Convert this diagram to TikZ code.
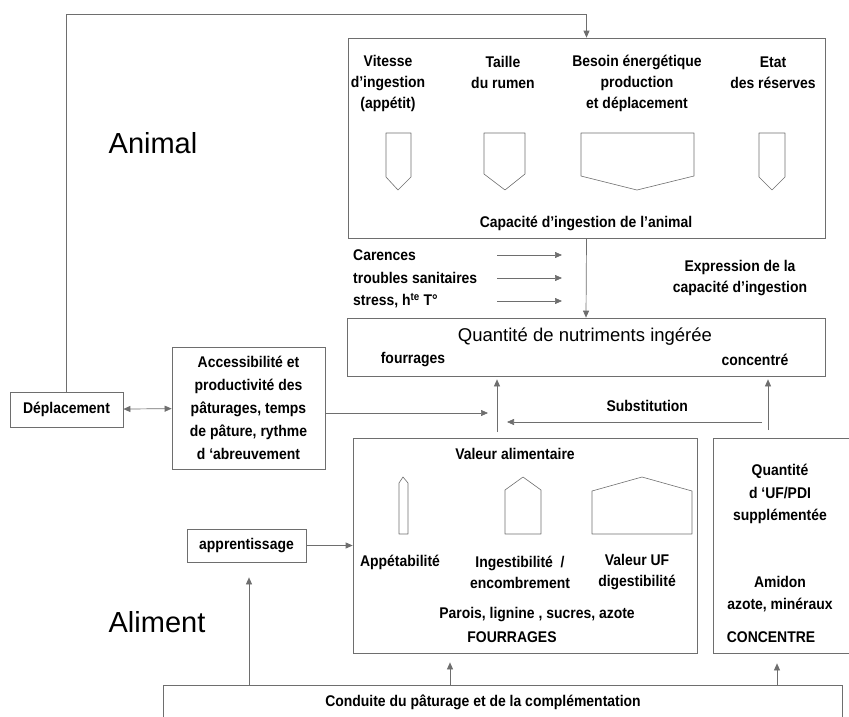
\documentclass[tikz,border=0pt]{standalone}
\usepackage{fontspec}
\setmainfont{Liberation Sans}
\newfontfamily\condfont[FakeStretch=0.9]{Liberation Sans}
\usetikzlibrary{arrows.meta}
\definecolor{lineGray}{HTML}{6E6E6E}
\tikzset{
  box/.style={draw=lineGray, line width=0.7pt, inner sep=0pt},
  txt/.style={font=\condfont\bfseries\fontsize{15.5}{21}\selectfont, align=center, inner sep=0pt, text=black},
  txtw/.style={txt, anchor=west},
  head/.style={font=\fontsize{18.5}{22}\selectfont, inner sep=0pt},
  big/.style={font=\fontsize{29}{32}\selectfont, inner sep=0pt},
  shp/.style={draw=lineGray, line width=0.6pt, line join=round},
  arr/.style={-{Triangle[length=7pt,width=6pt]}, lineGray, line width=0.7pt},
  arr2/.style={{Triangle[length=7pt,width=6pt]}-{Triangle[length=7pt,width=6pt]}, lineGray, line width=0.7pt},
}

\begin{document}
\begin{tikzpicture}[x=1pt, y=-1pt]
    \useasboundingbox (0,0) rectangle (849,716);
    \node[big] (animal) at (153,143) {Animal};
    \node[big] (aliment) at (157,622) {Aliment};
    % animal
    \node[box, minimum width=477, minimum height=200] (topbox) at (586.5,138) {};
    \node[txt] (vit) at (388,83) {Vitesse\\d’ingestion\\(appétit)};
    \node[txt] (tail) at (503,72.5) {Taille\\du rumen};
    \node[txt] (bes) at (637,83) {Besoin énergétique\\production\\et déplacement};
    \node[txt] (etat) at (773,72.5) {Etat\\des réserves};
    \draw[shp] (386,133) -- (411,133) -- (411,177) -- (398,190) -- (386,177) -- cycle;
    \draw[shp] (484,133) -- (525,133) -- (525,174) -- (505,190) -- (484,174) -- cycle;
    \draw[shp] (581,133) -- (694,133) -- (694,176) -- (637,190) -- (581,176) -- cycle;
    \draw[shp] (759,133) -- (785,133) -- (785,177) -- (772,190) -- (759,177) -- cycle;
    \node[txt] (capa) at (586,223) {Capacité d’ingestion de l’animal};
    \node[txtw] (car) at (353,255) {Carences};
    \node[txtw] (trou) at (353,278) {troubles sanitaires};
    \node[txtw] (stre) at (353,301) {stress, h\textsuperscript{te} T°};
    \foreach \y/\n in {255/a,278/b,301/c}{
      \coordinate (in\n) at (497,\y);
      \coordinate (out\n) at (562,\y);
      \draw[arr] (in\n) -- (out\n);
    }
    \node[txt] (expr) at (740,278) {Expression de la\\capacité d’ingestion};
    \node[box, minimum width=478, minimum height=58] (quant) at (586,347) {};
    \node[head] (quantt) at (585,337) {Quantité de nutriments ingérée};
    \node[txt] (fou) at (413,360) {fourrages};
    \node[txt] (conc) at (755,360) {concentré};
    \draw[arr] (topbox.south) -- (quant.north);
    % pasture side
    \node[box, minimum width=113, minimum height=35] (depl) at (66.5,409.5) {};
    \node[txt] at (depl) {Déplacement};
    \node[box, minimum width=153, minimum height=122] (acc) at (248.5,408) {};
    \node[txt, font=\condfont\bfseries\fontsize{15.5}{23}\selectfont] at (acc)
      {Accessibilité et\\productivité des\\pâturages, temps\\de pâture, rythme\\d ‘abreuvement};
    \coordinate (lp) at (0,14);
    \draw[arr] (depl.north) |- (topbox.north |- lp) -- (topbox.north);
    \draw[arr2] (depl) -- (acc);
    \coordinate (ja) at (488,413);
    \draw[arr] (acc.east |- ja) -- (ja);
    \coordinate (jf) at (497,432);
    \coordinate (jc) at (768,430);
    \draw[arr, shorten >=3pt] (jf) -- (jf |- quant.south);
    \draw[arr, shorten >=3pt] (jc) -- (jc |- quant.south);
    \coordinate (s1) at (762,422);
    \coordinate (s2) at (507,422);
    \draw[arr] (s1) -- node[txt, pos=0.45, above=10pt] {Substitution} (s2);
    % feed
    \node[box, minimum width=344, minimum height=215] (valbox) at (525,545.5) {};
    \node[txt] (valt) at (515,454) {Valeur alimentaire};
    \draw[shp] (399,534) -- (408,534) -- (408,483) -- (403,477) -- (399,483) -- cycle;
    \draw[shp] (505,534) -- (541,534) -- (541,490) -- (523,477) -- (505,490) -- cycle;
    \draw[shp] (592,534) -- (692,534) -- (692,491) -- (642,477) -- (592,491) -- cycle;
    \node[txt] (appe) at (400,562) {Appétabilité};
    \node[txt] (inge) at (520,572.5) {Ingestibilité \ /\\encombrement};
    \node[txt] (vuf) at (637,572.5) {Valeur UF\\digestibilité};
    \node[txt] (paro) at (537,615) {Parois, lignine , sucres, azote};
    \node[txt] (fourr) at (512,637) {FOURRAGES};
    \node[box, minimum width=139, minimum height=215] (conbox) at (782.5,545.5) {};
    \node[txt, font=\condfont\bfseries\fontsize{15.5}{22.5}\selectfont] (quf) at (780,494) {Quantité\\d ‘UF/PDI\\supplémentée};
    \node[txt, font=\condfont\bfseries\fontsize{15.5}{22}\selectfont] (amid) at (780,594) {Amidon\\azote, minéraux};
    \node[txt] (cct) at (771,637) {CONCENTRE};
    \node[box, minimum width=119, minimum height=33] (appr) at (246.5,545.5) {};
    \node[txt] at (appr) {apprentissage};
    \draw[arr] (appr) -- (appr -| valbox.west);
    \node[box, minimum width=679, minimum height=70] (cond) at (502.5,720) {};
    \node[txt] (condt) at (483,702) {Conduite du pâturage et de la complémentation};
    \coordinate (ba) at (249,0);
    \coordinate (bv) at (450,0);
    \coordinate (bc) at (777,0);
    \draw[arr, shorten >=15pt] (cond.north -| ba) -- (appr.south -| ba);
    \draw[arr, shorten >=9pt] (cond.north -| bv) -- (valbox.south -| bv);
    \draw[arr, shorten >=10pt] (cond.north -| bc) -- (conbox.south -| bc);
\end{tikzpicture}
\end{document}
